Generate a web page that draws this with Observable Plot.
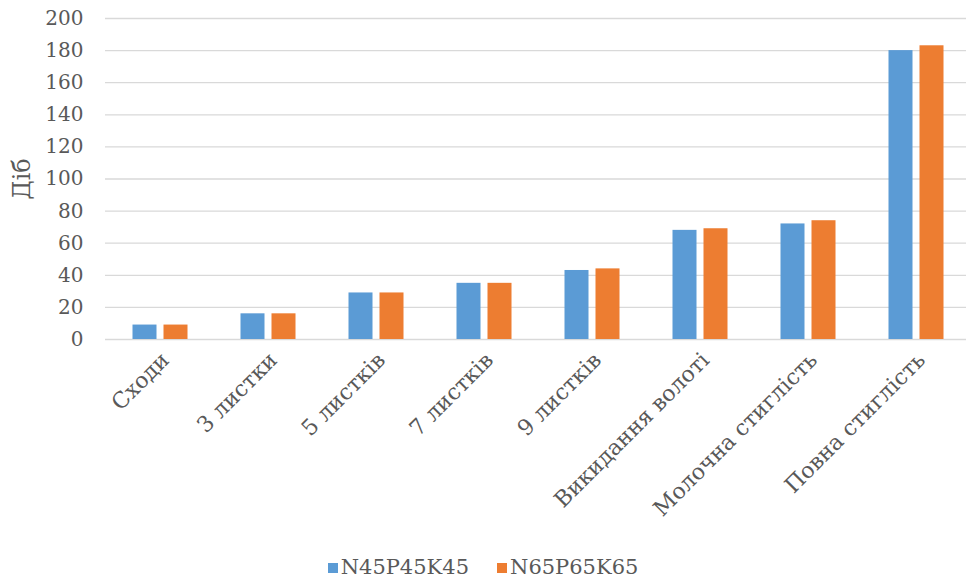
<!DOCTYPE html>
<html>
<head>
<meta charset="utf-8">
<script src="https://cdn.jsdelivr.net/npm/d3@7"></script>
<script src="https://cdn.jsdelivr.net/npm/@observablehq/plot@0.6"></script>
<style>
  html, body { margin: 0; padding: 0; background: #fff; overflow: hidden; }
  #chart svg { overflow: visible; }
  #chart svg text { font-family: 'DejaVu Serif', serif !important; }
  .legend { display: flex; justify-content: center; gap: 28px; font-family: 'DejaVu Serif', serif; font-size: 21px; line-height: 26px; color: #595959; margin-top: 16px; }
  .legend span.sw { display: inline-block; width: 10px; height: 10px; margin-right: 3px; vertical-align: 1px; }
</style>
</head>
<body>
<div id="chart"></div>
<script>
const stages = ["Сходи", "3 листки", "5 листків", "7 листків", "9 листків", "Викидання волоті", "Молочна стиглість", "Повна стиглість"];
const seriesNames = ["N45P45K45", "N65P65K65"];
const valuesA = [9, 16, 29, 35, 43, 68, 72, 180];
const valuesB = [9, 16, 29, 35, 44, 69, 74, 183];
const yTicks = [0, 20, 40, 60, 80, 100, 120, 140, 160, 180, 200];
const colors = ["#5B9BD5", "#ED7D31"];

const rowsA = stages.map((s, i) => ({stage: s, series: seriesNames[0], value: valuesA[i]}));
const rowsB = stages.map((s, i) => ({stage: s, series: seriesNames[1], value: valuesB[i]}));

const chart = Plot.plot({
  width: 966,
  height: 538,
  marginLeft: 105,
  marginRight: -6,
  marginTop: 18,
  marginBottom: 199,
  style: {color: "#595959", background: "#fff", overflow: "visible"},
  x: {domain: stages, paddingInner: 0.774, paddingOuter: 0.387},
  y: {domain: [0, 200]},
  color: {domain: seriesNames, range: colors},
  marks: [
    Plot.gridY(yTicks, {stroke: "#d9d9d9", strokeOpacity: 1, strokeWidth: 1.3}),
    Plot.barY(rowsA, {x: "stage", y: "value", fill: "series", dx: -15.5}),
    Plot.barY(rowsB, {x: "stage", y: "value", fill: "series", dx: 15.5}),
    Plot.axisY(yTicks, {tickSize: 0, tickPadding: 22, fontSize: 20, fill: "#595959",
      label: "Діб", labelAnchor: "center", labelArrow: "none", labelOffset: 93}),
    Plot.axisX({tickSize: 0, tickPadding: 17, tickRotate: -45, fontSize: 22, fill: "#595959", label: null, dx: 5})
  ]
});
document.getElementById("chart").appendChild(chart);

chart.querySelectorAll("g[aria-label='y-axis label'] text").forEach(t => t.setAttribute("font-size", 24));

const legend = document.createElement("div");
legend.className = "legend";
seriesNames.forEach((n, i) => {
  const item = document.createElement("div");
  const sw = document.createElement("span");
  sw.className = "sw";
  sw.style.background = colors[i];
  item.appendChild(sw);
  item.appendChild(document.createTextNode(n));
  legend.appendChild(item);
});
document.body.appendChild(legend);
</script>
</body>
</html>
